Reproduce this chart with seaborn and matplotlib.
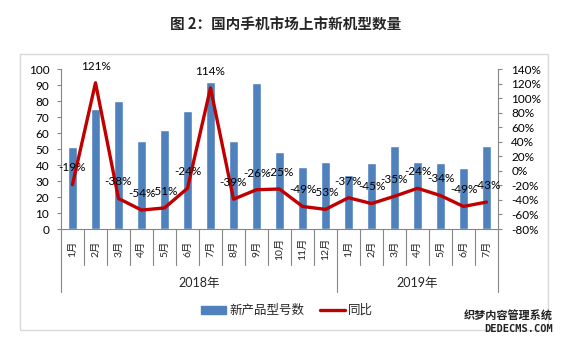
import matplotlib
matplotlib.use("Agg")
import matplotlib.pyplot as plt
import seaborn as sns
import pandas as pd
from matplotlib.patches import Rectangle, Patch
from matplotlib.lines import Line2D

# ---- data ----
months = ["1月", "2月", "3月", "4月", "5月", "6月", "7月", "8月", "9月", "10月", "11月", "12月",
          "1月", "2月", "3月", "4月", "5月", "6月", "7月"]
years = ["2018年", "2019年"]
year_counts = [12, 7]
new_models = [51, 75, 80, 55, 62, 74, 92, 55, 91, 48, 39, 42, 34, 41, 52, 42, 41, 38, 52]
yoy = [-19, 121, -38, -54, -51, -24, 114, -39, -26, -25, -49, -53, -37, -45, -35, -24, -34, -49, -43]

title = "图 2：国内手机市场上市新机型数量"
bar_name = "新产品型号数"
line_name = "同比"

BLUE = "#4F81BD"
RED = "#C00000"
AX_GRAY = "#868686"

sns.set_theme(style="white")
plt.rcParams["font.family"] = ["Lato", "Noto Sans CJK SC", "DejaVu Sans"]

W, H = 561, 343
fig = plt.figure(figsize=(W / 100, H / 100), dpi=100)

# chart border
fig.patches.append(Rectangle((20 / W, 1 - 330 / H), (548 - 20) / W, (330 - 54) / H,
                             transform=fig.transFigure, fill=False, edgecolor="#D9D9D9", lw=1))

ax = fig.add_axes([61 / W, 1 - 229 / H, (498 - 61) / W, (229 - 69) / H])
df = pd.DataFrame({"idx": list(range(len(months))), "val": new_models})
sns.barplot(data=df, x="idx", y="val", color=BLUE, width=0.42, saturation=1, ax=ax)
ax.set_xlim(-0.5, len(months) - 0.5)
ax.set_ylim(0, 100)
ax.set_yticks(range(0, 101, 10))
ax.set_xticks([])
ax.set_xlabel("")
ax.set_ylabel("")
for s in ["top", "right"]:
    ax.spines[s].set_visible(False)
for s in ["left", "bottom"]:
    ax.spines[s].set_color(AX_GRAY)
    ax.spines[s].set_linewidth(0.8)
ax.tick_params(axis="y", which="both", left=True, length=3, width=0.8, color=AX_GRAY,
               labelsize=8.5, labelcolor="black", pad=5.5)

ax2 = ax.twinx()
sns.lineplot(x=df["idx"], y=yoy, color=RED, lw=2.4, ax=ax2)
ax2.set_ylim(-80, 140)
ax2.set_yticks(range(-80, 141, 20))
ax2.set_yticklabels([f"{t}%" for t in range(-80, 141, 20)])
ax2.set_xlim(-0.5, len(months) - 0.5)
ax2.set_ylabel("")
for s in ["top", "left", "bottom"]:
    ax2.spines[s].set_visible(False)
ax2.spines["right"].set_color(AX_GRAY)
ax2.spines["right"].set_linewidth(0.8)
ax2.tick_params(axis="y", which="both", right=True, length=3, width=0.8, color=AX_GRAY,
                labelsize=8.5, labelcolor="black", pad=6.5)

for i, v in enumerate(yoy):
    ax2.annotate(f"{v}%", (i, v), xytext=(0, 12), textcoords="offset points",
                 ha="center", va="center", fontsize=8.5, color="black")

# category axis: month labels, separators, year labels
tr = ax.get_xaxis_transform()
for i, m in enumerate(months):
    ax.text(i, -0.125, m, rotation=90, ha="center", va="center", fontsize=7.5,
            transform=tr, clip_on=False)
bounds = [0]
for c in year_counts:
    bounds.append(bounds[-1] + c)
for k in range(len(months) + 1):
    long = k in bounds
    ax.plot([k - 0.5, k - 0.5], [0, -0.392 if long else -0.225], transform=tr,
            color=AX_GRAY, lw=0.8, clip_on=False)
for y, a, b in zip(years, bounds[:-1], bounds[1:]):
    ax.text((a + b - 1) / 2, -0.3375, y, ha="center", va="center", fontsize=9,
            transform=tr, clip_on=False)

# legend
handles = [Patch(facecolor=BLUE, edgecolor=BLUE), Line2D([0], [0], color=RED, lw=2.4)]
fig.legend(handles, [bar_name, line_name], loc="center", bbox_to_anchor=(287 / W, 1 - 310 / H),
           ncol=2, frameon=False, fontsize=9, handlelength=2.0, handleheight=0.55,
           columnspacing=1.2, handletextpad=0.3)

# title
fig.text(286 / W, 1 - 25 / H, title, ha="center", va="center", fontsize=10.5,
         fontweight="bold", family=["Noto Sans CJK SC", "DejaVu Sans"])

# watermark text
fig.text(553 / W, 1 - 316 / H, "织梦内容管理系统", ha="right", va="center", fontsize=8,
         fontweight="bold", family=["Noto Sans CJK SC", "DejaVu Sans"], color="#222222")
fig.text(553 / W, 1 - 329 / H, "DEDECMS.COM", ha="right", va="center", fontsize=7.5,
         fontweight="bold", family=["DejaVu Sans Mono"], color="#222222")

fig.savefig("out.png", dpi=100)
